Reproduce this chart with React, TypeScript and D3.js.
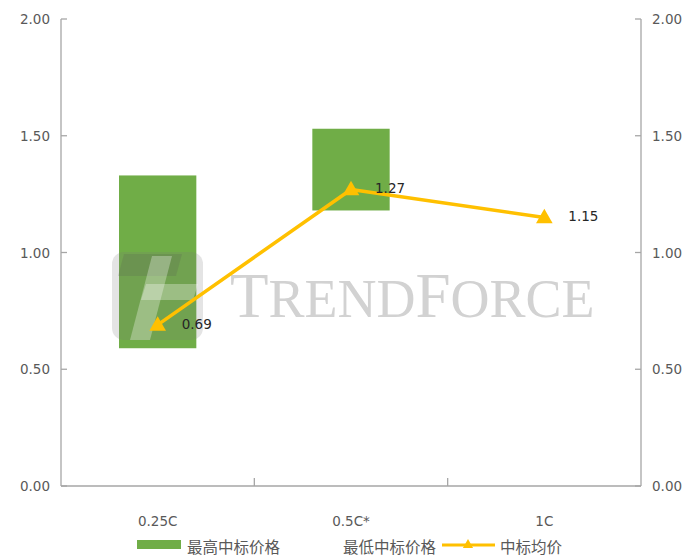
import React from "react";
import * as d3 from "d3";

const categories = ["0.25C", "0.5C*", "1C"];
const highPrice: (number | null)[] = [1.33, 1.53, null];
const lowPrice: (number | null)[] = [0.59, 1.18, null];
const avgPrice = [0.69, 1.27, 1.15];
const yTicks = [0, 0.5, 1, 1.5, 2];
const legendLabels = ["最高中标价格", "最低中标价格", "中标均价"];

const W = 693;
const H = 559;
const m = { left: 61, right: 52, top: 19, bottom: 73 };

export default function App() {
  const x = d3
    .scaleBand<string>()
    .domain(categories)
    .range([m.left, W - m.right])
    .paddingInner(0)
    .paddingOuter(0);
  const y = d3.scaleLinear().domain([0, 2]).range([H - m.bottom, m.top]);
  const bw = x.bandwidth() * 0.4;
  const cx = (c: string) => (x(c) as number) + x.bandwidth() / 2;

  const line = d3
    .line<number>()
    .x((_, i) => cx(categories[i]))
    .y((d) => y(d));

  const tri = d3.symbol().type(d3.symbolTriangle).size(120)();

  const green = "#70AD47";
  const yellow = "#FFC000";
  const axisColor = "#A6A6A6";
  const tickText = "#595959";
  const font = "'DejaVu Sans', Verdana, sans-serif";
  const cjk = "'Noto Sans CJK SC', sans-serif";

  const x0 = m.left;
  const x1 = W - m.right;
  const yb = y(0);

  return (
    <svg
      width={W}
      height={H}
      style={{ position: "absolute", left: 0, top: 0, background: "#fff" }}
    >
      {/* bars (floating between lowest and highest) */}
      {categories.map((c, i) => {
        const hi = highPrice[i];
        const lo = lowPrice[i];
        if (hi == null || lo == null) return null;
        return (
          <rect
            key={c}
            x={cx(c) - bw / 2}
            y={y(hi)}
            width={bw}
            height={y(lo) - y(hi)}
            fill={green}
          />
        );
      })}

      {/* watermark */}
      <g>
        <rect x={112} y={252} width={91} height={88} rx={12} fill="#7a7a7a" opacity={0.2} />
        <path d="M124 254 L182 254 L176 276 L118 276 Z" fill="#555" opacity={0.18} />
        <path d="M146 284 L198 284 L193 300 L141 300 Z" fill="#fff" opacity={0.3} />
        <path d="M152 256 L172 256 L150 340 L130 340 Z" fill="#fff" opacity={0.3} />
        <text
          x={230}
          y={317}
          fontFamily="'Liberation Serif', serif"
          fill="#d2d2d2"
          fontSize={63}
        >
          T<tspan fontSize={54}>REND</tspan>F<tspan fontSize={54}>ORCE</tspan>
        </text>
      </g>

      {/* axes */}
      <line x1={x0} x2={x0} y1={y(2)} y2={yb} stroke={axisColor} strokeWidth={1.3} />
      <line x1={x1} x2={x1} y1={y(2)} y2={yb} stroke={axisColor} strokeWidth={1.3} />
      <line x1={x0} x2={x1} y1={yb} y2={yb} stroke={axisColor} strokeWidth={1.3} />
      {yTicks.map((t) => (
        <g key={t}>
          <line x1={x0} x2={x0 + 6} y1={y(t)} y2={y(t)} stroke={axisColor} strokeWidth={1.3} />
          <line x1={x1 - 6} x2={x1} y1={y(t)} y2={y(t)} stroke={axisColor} strokeWidth={1.3} />
          <text
            x={x0 - 11}
            y={y(t)}
            textAnchor="end"
            dominantBaseline="central"
            fontFamily={font}
            fontSize={13.5}
            fill={tickText}
          >
            {t.toFixed(2)}
          </text>
          <text
            x={x1 + 11}
            y={y(t)}
            textAnchor="start"
            dominantBaseline="central"
            fontFamily={font}
            fontSize={13.5}
            fill={tickText}
          >
            {t.toFixed(2)}
          </text>
        </g>
      ))}
      {categories.slice(1).map((c) => (
        <line
          key={c}
          x1={x(c)}
          x2={x(c)}
          y1={yb - 8}
          y2={yb}
          stroke={axisColor}
          strokeWidth={1.3}
        />
      ))}
      {categories.map((c) => (
        <text
          key={c}
          x={cx(c)}
          y={yb + 35}
          textAnchor="middle"
          dominantBaseline="central"
          fontFamily={font}
          fontSize={13.5}
          fill={tickText}
        >
          {c}
        </text>
      ))}

      {/* average line */}
      <path d={line(avgPrice) || ""} fill="none" stroke={yellow} strokeWidth={3.5} strokeLinejoin="round" />
      {avgPrice.map((v, i) => (
        <path key={i} d={tri || ""} transform={`translate(${cx(categories[i])},${y(v) + 1})`} fill={yellow} />
      ))}
      {avgPrice.map((v, i) => (
        <text
          key={"l" + i}
          x={cx(categories[i]) + 24}
          y={y(v) - 1}
          dominantBaseline="central"
          fontFamily={font}
          fontSize={13.5}
          fill="#262626"
        >
          {v.toFixed(2)}
        </text>
      ))}

      {/* legend */}
      <rect x={137} y={540} width={44} height={9} fill={green} />
      <text x={187} y={546} dominantBaseline="central" fontFamily={cjk} fontSize={15.5} fill={tickText}>
        {legendLabels[0]}
      </text>
      <text x={343} y={546} dominantBaseline="central" fontFamily={cjk} fontSize={15.5} fill={tickText}>
        {legendLabels[1]}
      </text>
      <line x1={442} x2={495} y1={545} y2={545} stroke={yellow} strokeWidth={3} />
      <path d={d3.symbol().type(d3.symbolTriangle).size(45)() || ""} transform="translate(468,545)" fill={yellow} />
      <text x={500} y={546} dominantBaseline="central" fontFamily={cjk} fontSize={15.5} fill={tickText}>
        {legendLabels[2]}
      </text>
    </svg>
  );
}
